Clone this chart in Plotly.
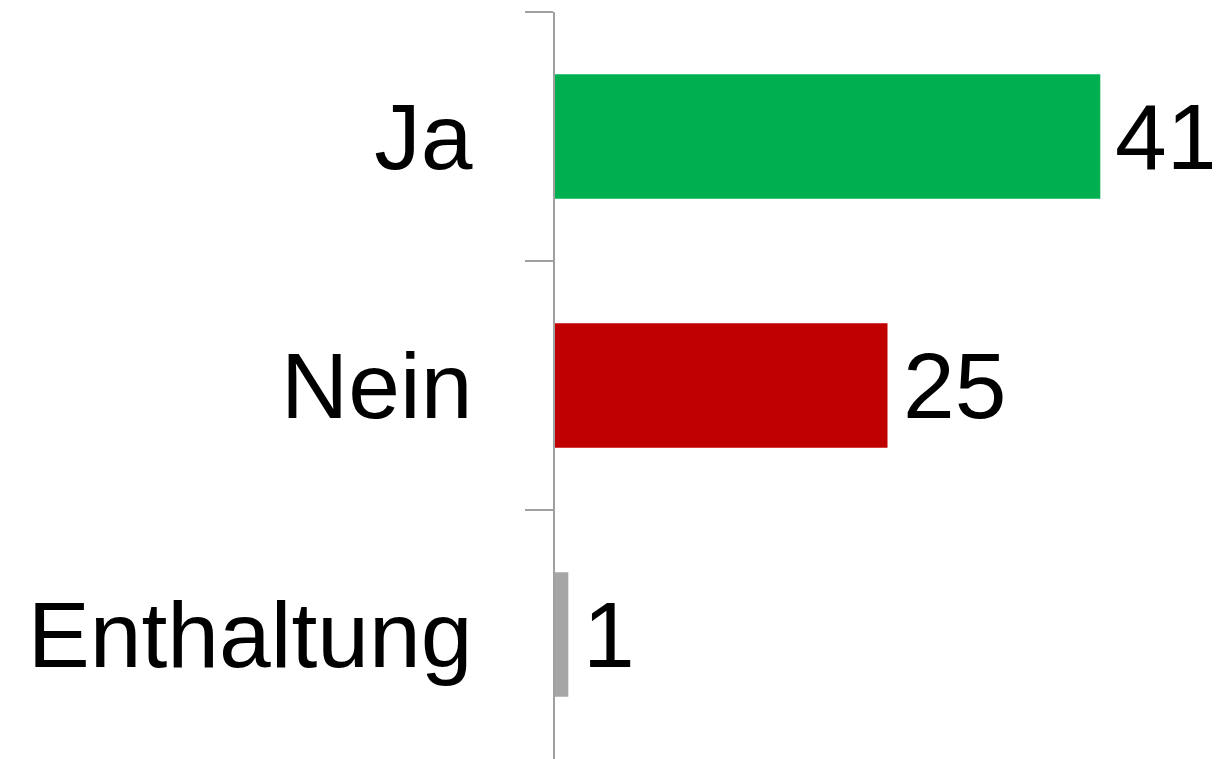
import plotly.graph_objects as go

categories = ["Ja", "Nein", "Enthaltung"]
values = [41, 25, 1]
colors = ["#00B050", "#C00000", "#A6A6A6"]

FONT = "Liberation Sans, Arial, sans-serif"
FS = 93

fig = go.Figure()
fig.add_trace(go.Bar(
    y=categories,
    x=values,
    orientation="h",
    marker=dict(color=colors, line=dict(width=0)),
    hoverinfo="skip",
))

for c, v in zip(categories, values):
    fig.add_annotation(
        x=v, y=c, xref="x", yref="y",
        text=str(v), showarrow=False,
        xanchor="left", yanchor="middle", xshift=13,
        font=dict(family=FONT, size=FS, color="#000000"),
    )

fig.update_layout(
    width=1212, height=751,
    margin=dict(l=547, r=0, t=4, b=0),
    paper_bgcolor="white", plot_bgcolor="white",
    bargap=0.5,
    showlegend=False,
    font=dict(family=FONT, size=FS, color="#000000"),
)
fig.update_xaxes(
    range=[0, 50], visible=False, showgrid=False, zeroline=False,
)
fig.update_yaxes(
    autorange="reversed",
    showline=True, linecolor="#A0A0A0", linewidth=2,
    ticks="outside", tickson="boundaries", ticklen=28, tickcolor="#A0A0A0", tickwidth=2,
    ticklabelstandoff=62,
    tickfont=dict(family=FONT, size=FS, color="#000000"),
    showgrid=False, zeroline=False,
)

fig.write_html("out.html")
